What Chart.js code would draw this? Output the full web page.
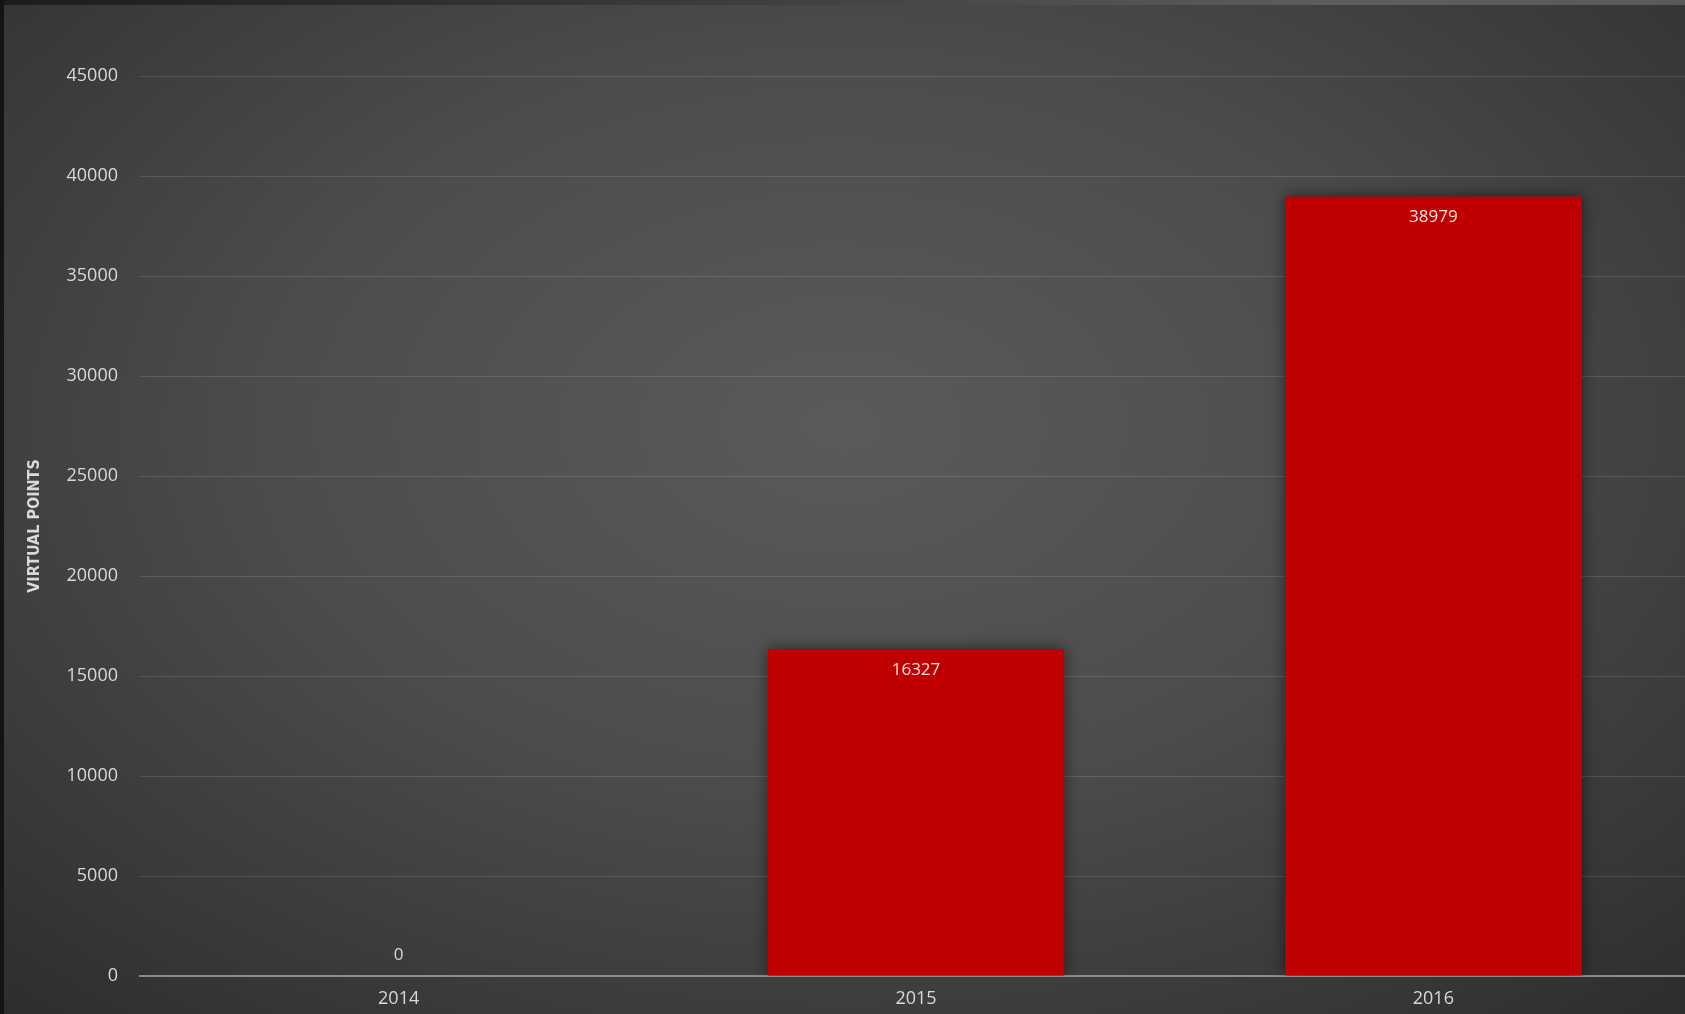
<!DOCTYPE html>
<html>
<head>
<meta charset="utf-8">
<script src="https://cdn.jsdelivr.net/npm/chart.js@4/dist/chart.umd.min.js"></script>
<style>
  html, body { margin: 0; padding: 0; }
  body {
    width: 1685px;
    height: 1014px;
    overflow: hidden;
    background: radial-gradient(ellipse 75% 80% at 50% 42%, #5a5a5a 0%, #4c4c4c 45%, #383838 80%, #2c2c2c 100%);
  }
  #wrap { position: relative; width: 1685px; height: 1014px; overflow: hidden; }
  #topEdge {
    position: absolute; left: 0; top: 0; width: 1685px; height: 5px;
    background: linear-gradient(90deg, #1c1c1c 0%, #3a3a3a 40%, #5e5e5e 80%, #5a5a5a 100%);
  }
  #leftEdge { position: absolute; left: 0; top: 0; width: 4px; height: 1014px; background: #141414; }
  canvas { position: absolute; left: 0; top: 0; }
</style>
</head>
<body>
<div id="wrap">
  <div id="topEdge"></div>
  <div id="leftEdge"></div>
  <canvas id="chart" width="1692" height="1014"></canvas>
</div>
<script>
const years = ["2014", "2015", "2016"];
const points = [0, 16327, 38979];
const yTicks = [0, 5000, 10000, 15000, 20000, 25000, 30000, 35000, 40000, 45000];

const barColor = "#c00000";
const textColor = "#d9d9d9";
const gridColor = "rgba(255,255,255,0.12)";

const barShadow = {
  id: "barShadow",
  beforeDatasetsDraw(chart) {
    const ctx = chart.ctx;
    ctx.save();
    ctx.shadowColor = "rgba(0,0,0,0.55)";
    ctx.shadowBlur = 14;
  },
  afterDatasetsDraw(chart) {
    chart.ctx.restore();
  }
};

const valueLabels = {
  id: "valueLabels",
  afterDatasetsDraw(chart) {
    const ctx = chart.ctx;
    const meta = chart.getDatasetMeta(0);
    ctx.save();
    ctx.font = "17px 'Open Sans'";
    ctx.textAlign = "center";
    ctx.textBaseline = "middle";
    meta.data.forEach((bar, i) => {
      const value = points[i];
      if (value > 0) {
        ctx.fillStyle = "#f6e2e2";
        ctx.fillText(String(value), bar.x, bar.y + 21);
      } else {
        ctx.fillStyle = textColor;
        ctx.fillText(String(value), bar.x, bar.y - 21);
      }
    });
    ctx.restore();
  }
};

new Chart(document.querySelector("#chart"), {
  type: "bar",
  data: {
    labels: years,
    datasets: [{
      data: points,
      backgroundColor: barColor,
      borderWidth: 0,
      barPercentage: 0.573,
      categoryPercentage: 1
    }]
  },
  options: {
    responsive: false,
    animation: false,
    layout: { padding: { left: 20, top: 76, right: 0, bottom: 0 } },
    plugins: {
      legend: { display: false },
      tooltip: { enabled: false }
    },
    scales: {
      x: {
        grid: { display: false, drawTicks: false },
        border: { color: "#8c8c8c", width: 2 },
        ticks: {
          color: textColor,
          font: { family: "'Open Sans'", size: 18 },
          padding: 12
        },
        afterFit: (scale) => { scale.height = 38; }
      },
      y: {
        min: 0,
        max: 45000,
        afterBuildTicks: (scale) => { scale.ticks = yTicks.map((v) => ({ value: v })); },
        grid: { color: gridColor, lineWidth: 1, drawTicks: false },
        border: { display: false },
        ticks: {
          color: textColor,
          font: { family: "'Open Sans'", size: 18 },
          padding: 22,
          callback: (value) => String(value)
        },
        title: {
          display: true,
          text: "VIRTUAL POINTS",
          color: textColor,
          font: { family: "'DejaVu Sans Condensed', 'Liberation Sans Narrow'", size: 16, weight: "bold" },
          padding: { top: 5, bottom: 0 }
        },
        afterFit: (scale) => { scale.width = 120; }
      }
    }
  },
  plugins: [barShadow, valueLabels]
});
</script>
</body>
</html>
